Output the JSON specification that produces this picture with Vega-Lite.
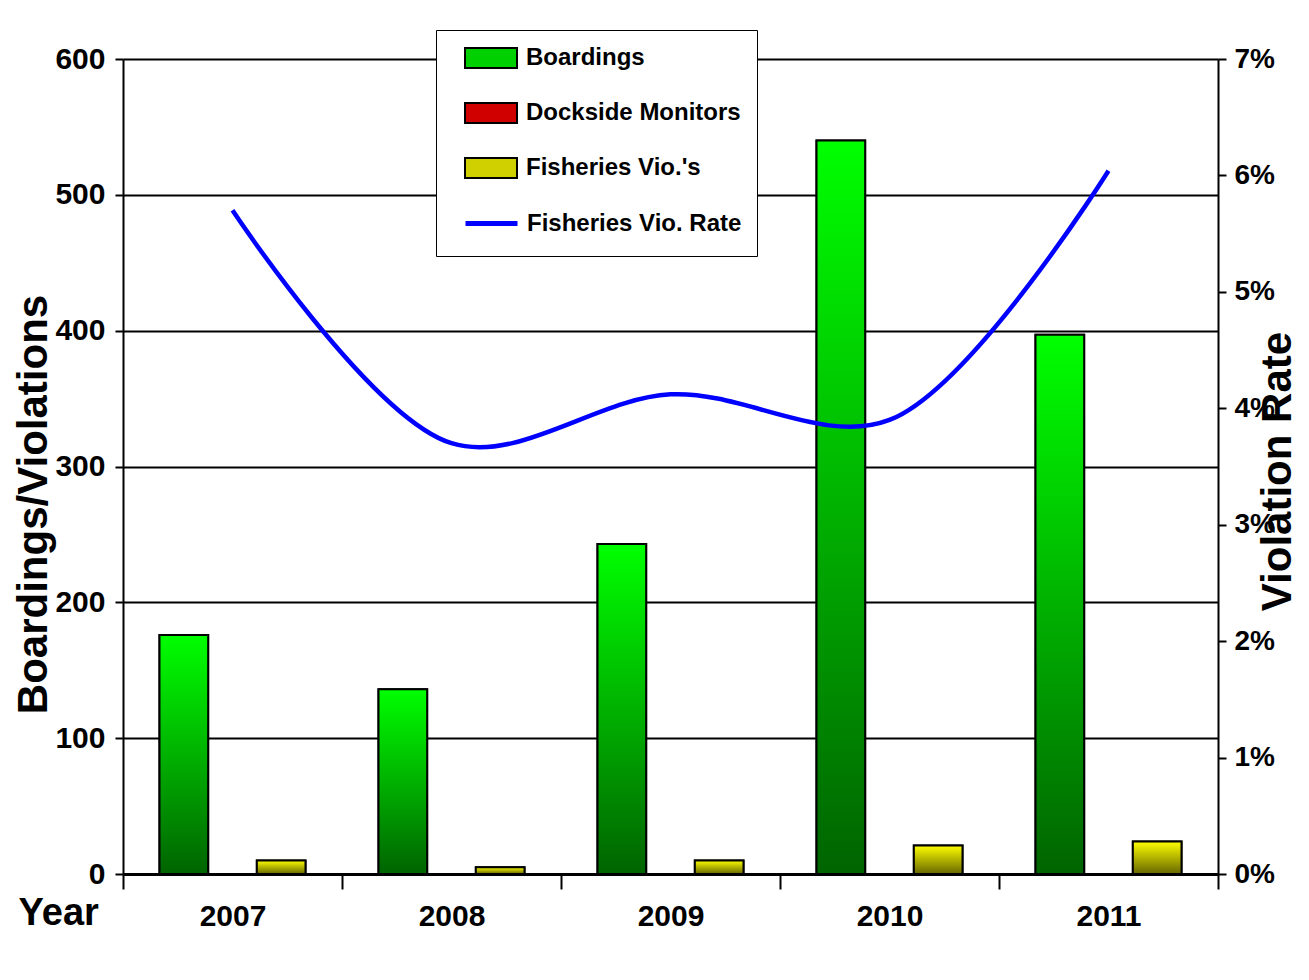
{
  "$schema": "https://vega.github.io/schema/vega-lite/v6.json",
  "width": 1095,
  "height": 815,
  "autosize": {"type": "none"},
  "padding": {"left": 123, "top": 59, "right": 91, "bottom": 106},
  "background": "white",
  "config": {"view": {"stroke": null}},
  "datasets": {
    "counts": [
      {"year": "2007", "series": "Boardings", "count": 176},
      {"year": "2007", "series": "Fisheries Vio.'s", "count": 10},
      {"year": "2008", "series": "Boardings", "count": 136},
      {"year": "2008", "series": "Fisheries Vio.'s", "count": 5},
      {"year": "2009", "series": "Boardings", "count": 243},
      {"year": "2009", "series": "Fisheries Vio.'s", "count": 10},
      {"year": "2010", "series": "Boardings", "count": 540},
      {"year": "2010", "series": "Fisheries Vio.'s", "count": 21},
      {"year": "2011", "series": "Boardings", "count": 397},
      {"year": "2011", "series": "Fisheries Vio.'s", "count": 24}
    ],
    "rates": [
      {"year": "2007", "series": "Fisheries Vio. Rate", "rate": 0.0570},
      {"year": "2008", "series": "Fisheries Vio. Rate", "rate": 0.0370},
      {"year": "2009", "series": "Fisheries Vio. Rate", "rate": 0.0412},
      {"year": "2010", "series": "Fisheries Vio. Rate", "rate": 0.0390},
      {"year": "2011", "series": "Fisheries Vio. Rate", "rate": 0.0604}
    ]
  },
  "layer": [
    {
      "layer": [
        {
          "data": {"name": "counts"},
          "mark": {"type": "bar", "stroke": "black", "strokeWidth": 2},
          "encoding": {
            "x": {
              "field": "year",
              "type": "nominal",
              "title": "Year",
              "scale": {"paddingInner": 0, "paddingOuter": 0},
              "axis": {
                "labelAngle": 0,
                "tickBand": "extent",
                "domainColor": "black",
                "domainWidth": 3,
                "tickColor": "black",
                "tickWidth": 2,
                "tickSize": 15,
                "labelFont": "'Liberation Sans', Arial, sans-serif",
                "labelFontSize": 30,
                "labelFontWeight": "bold",
                "labelColor": "black",
                "labelPadding": 12,
                "titleFont": "'Liberation Sans', Arial, sans-serif",
                "titleFontSize": 38,
                "titleFontWeight": "bold",
                "titleColor": "black",
                "titleX": -105,
                "titleY": 20,
                "titleAlign": "left",
                "titleBaseline": "top"
              }
            },
            "xOffset": {
              "field": "series",
              "type": "nominal",
              "scale": {
                "domain": ["Boardings", "Dockside Monitors", "Fisheries Vio.'s"],
                "paddingInner": 0,
                "paddingOuter": 0.75
              }
            },
            "y": {
              "field": "count",
              "type": "quantitative",
              "title": "Boardings/Violations",
              "scale": {"domain": [0, 600], "nice": false},
              "axis": {
                "values": [0, 100, 200, 300, 400, 500, 600],
                "grid": true,
                "gridColor": "black",
                "gridWidth": 2,
                "gridOpacity": 1,
                "domainColor": "black",
                "domainWidth": 2,
                "tickColor": "black",
                "tickWidth": 2,
                "tickSize": 8,
                "labelFont": "'Liberation Sans', Arial, sans-serif",
                "labelFontSize": 30,
                "labelFontWeight": "bold",
                "labelColor": "black",
                "labelPadding": 10,
                "titleFont": "'Liberation Sans', Arial, sans-serif",
                "titleFontSize": 42,
                "titleFontWeight": "bold",
                "titleColor": "black",
                "titleAngle": 270,
                "titleX": -77,
                "titleY": 445,
                "titleAlign": "center",
                "titleBaseline": "alphabetic"
              }
            },
            "color": {
              "field": "series",
              "type": "nominal",
              "scale": {
                "domain": ["Boardings", "Dockside Monitors", "Fisheries Vio.'s"],
                "range": ["#00d000", "#d00000", "#d0d000"]
              },
              "legend": {
                "orient": "none",
                "legendX": 313,
                "legendY": -29,
                "title": "\u00a0",
                "titleOrient": "bottom",
                "titleFontSize": 24,
                "titlePadding": 34,
                "direction": "vertical",
                "fillColor": "white",
                "strokeColor": "black",
                "padding": 16,
                "symbolType": "M0.1,-1H5.3V1H0.1Z",
                "symbolSize": 400,
                "symbolStrokeColor": "black",
                "symbolStrokeWidth": 2,
                "symbolOpacity": 1,
                "labelFont": "'Liberation Sans', Arial, sans-serif",
                "labelFontSize": 24,
                "labelFontWeight": "bold",
                "labelColor": "black",
                "labelOffset": 50,
                "labelLimit": 400,
                "rowPadding": 27
              }
            }
          }
        },
        {
          "data": {"name": "counts"},
          "transform": [{"filter": "datum.series === 'Boardings'"}],
          "mark": {
            "type": "bar",
            "stroke": "black",
            "strokeWidth": 2,
            "color": {"gradient": "linear", "x1": 0, "y1": 0, "x2": 0, "y2": 1, "stops": [{"offset": 0, "color": "#00ff00"}, {"offset": 1, "color": "#006400"}]}
          },
          "encoding": {
            "x": {"field": "year", "type": "nominal", "title": "Year"},
            "xOffset": {"field": "series", "type": "nominal"},
            "y": {"field": "count", "type": "quantitative", "title": "Boardings/Violations"}
          }
        },
        {
          "data": {"name": "counts"},
          "transform": [{"filter": "datum.series === \"Fisheries Vio.'s\""}],
          "mark": {
            "type": "bar",
            "stroke": "black",
            "strokeWidth": 2,
            "color": {"gradient": "linear", "x1": 0, "y1": 0, "x2": 0, "y2": 1, "stops": [{"offset": 0, "color": "#ffff00"}, {"offset": 1, "color": "#666600"}]}
          },
          "encoding": {
            "x": {"field": "year", "type": "nominal", "title": "Year"},
            "xOffset": {"field": "series", "type": "nominal"},
            "y": {"field": "count", "type": "quantitative", "title": "Boardings/Violations"}
          }
        }
      ]
    },
    {
      "data": {"name": "rates"},
      "mark": {"type": "line", "strokeWidth": 4.5, "interpolate": "catmull-rom"},
      "encoding": {
        "x": {"field": "year", "type": "nominal", "title": "Year"},
        "stroke": {
          "field": "series",
          "type": "nominal",
          "scale": {"domain": ["Fisheries Vio. Rate"], "range": ["#0000ff"]},
          "legend": {
            "orient": "none",
            "legendX": 340,
            "legendY": 136,
            "title": null,
            "padding": 0,
            "symbolType": "stroke",
            "symbolSize": 2704,
            "symbolStrokeWidth": 5,
            "labelFont": "'Liberation Sans', Arial, sans-serif",
            "labelFontSize": 24,
            "labelFontWeight": "bold",
            "labelColor": "black",
            "labelOffset": 7,
            "labelLimit": 400
          }
        },
        "y": {
          "field": "rate",
          "type": "quantitative",
          "title": "Violation Rate",
          "scale": {"domain": [0, 0.07], "nice": false},
          "axis": {
            "orient": "right",
            "format": ".0%",
            "values": [0, 0.01, 0.02, 0.03, 0.04, 0.05, 0.06, 0.07],
            "grid": false,
            "domainColor": "black",
            "domainWidth": 2,
            "tickColor": "black",
            "tickWidth": 2,
            "tickSize": 8,
            "labelFont": "'Liberation Sans', Arial, sans-serif",
            "labelFontSize": 28,
            "labelFontWeight": "bold",
            "labelColor": "black",
            "labelPadding": 8,
            "titleFont": "'Liberation Sans', Arial, sans-serif",
            "titleFontSize": 42,
            "titleFontWeight": "bold",
            "titleColor": "black",
            "titleAngle": 270,
            "titleX": 72,
            "titleY": 412,
            "titleAlign": "center",
            "titleBaseline": "alphabetic"
          }
        }
      }
    }
  ],
  "resolve": {"scale": {"y": "independent"}}
}
